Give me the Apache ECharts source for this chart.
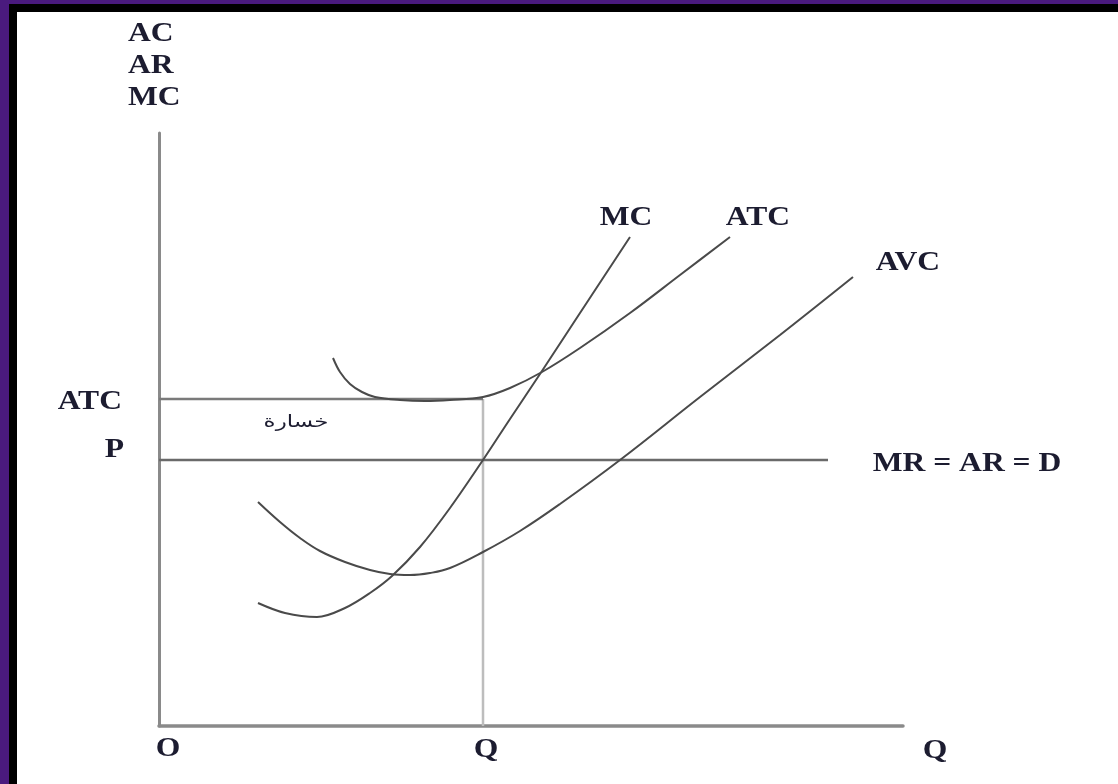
<!DOCTYPE html>
<html>
<head>
<meta charset="utf-8">
<script src="https://cdn.jsdelivr.net/npm/echarts@6/dist/echarts.min.js"></script>
<style>
html,body{margin:0;padding:0;width:1118px;height:784px;overflow:hidden;background:#4a1a7e}
#black{position:absolute;left:9px;top:4px;right:0;bottom:0;background:#000}
#white{position:absolute;left:17px;top:12px;right:0;bottom:0;background:#fff}
#chart{position:absolute;left:0;top:0;width:1118px;height:784px}
</style>
</head>
<body>
<div id="black"></div>
<div id="white"></div>
<div id="chart"></div>
<script>
// Quantity (x) and cost/revenue (y) values
const mcPoints = [[99,123],[126,113],[158,109],[186,118],[211,133],[233,150],[261,179],[291,218],[324,266],[351,307],[381,352],[421,413],[471,489]];
const atcPoints = [[174,368],[181,354],[191,342],[203,334],[216,329],[241,326],[266,325],[291,326],[324,329],[351,338],[383,354],[421,378],[471,413],[521,451],[571,489]];
const avcPoints = [[99,224],[121,204],[141,188],[161,175],[186,164],[211,156],[231,152],[251,151],[271,153],[291,158],[324,174],[361,195],[401,222],[461,266],[541,329],[621,391],[694,449]];
const qOutput = 324;      // Q
const atcLevel = 327;     // ATC at Q
const priceLevel = 266;   // P = MR = AR = D
const demandEnd = 669;
const xMax = 744, yMax = 593;
const yAxisLabels = ['AC','AR','MC'];
const xTickLabels = ['O','Q','Q'];

const atcLine = [[0, atcLevel],[qOutput, atcLevel]];
const priceLine = [[0, priceLevel],[demandEnd, priceLevel]];
const qLine = [[qOutput, 0],[qOutput, atcLevel]];

const chart = echarts.init(document.getElementById('chart'), null, {renderer:'canvas'});

const serifFont = 'bold 27px "Liberation Serif", "DejaVu Serif", serif';
const txtColor = '#1c1c30';
function label(text, x, y, align, font, sx){
  return {
    type:'text', x:x, y:y, scaleX: sx || 1.17, z:10,
    style:{ text:text, x:0, y:0, font: font || serifFont, fill:txtColor,
      align: align || 'center', verticalAlign:'middle',
      textAlign: align || 'center', textVerticalAlign:'middle' }
  };
}

const lineStyleCurve = {color:'#4a4a4a', width:2};
function curve(name, pts, s){
  return {name:name, type:'line', data:pts, smooth:s || 0.35, showSymbol:false, symbol:'none',
    lineStyle:lineStyleCurve, itemStyle:{color:'#4a4a4a'}, silent:true, z:3};
}
function straight(pts, color, width){
  return {type:'line', data:pts, showSymbol:false, symbol:'none',
    lineStyle:{color:color, width:width}, silent:true, z:2};
}

chart.setOption({
  animation:false,
  backgroundColor:'transparent',
  grid:{left:159, top:133, width:xMax, height:yMax},
  xAxis:{type:'value', min:0, max:xMax,
    axisLine:{show:true, onZero:true, lineStyle:{color:'#8a8a8a', width:3.5}},
    axisTick:{show:false}, axisLabel:{show:false}, splitLine:{show:false}},
  yAxis:{type:'value', min:0, max:yMax,
    axisLine:{show:true, onZero:true, lineStyle:{color:'#8a8a8a', width:3}},
    axisTick:{show:false}, axisLabel:{show:false}, splitLine:{show:false}},
  series:[
    straight(qLine, '#bdbdbd', 2.5),
    straight(atcLine, '#7a7a7a', 2.5),
    straight(priceLine, '#6a6a6a', 2.5),
    curve('MC', mcPoints),
    curve('ATC', atcPoints),
    curve('AVC', avcPoints, 0.4)
  ],
  graphic:[
    label(yAxisLabels[0], 128, 34, 'left'),
    label(yAxisLabels[1], 128, 66, 'left'),
    label(yAxisLabels[2], 128, 98, 'left'),
    label('ATC', 122, 402, 'right'),
    label('P', 124, 450, 'right'),
    label('MC', 626, 218),
    label('ATC', 758, 218),
    label('AVC', 908, 263),
    label('MR = AR = D', 967, 464),
    label(xTickLabels[0], 168, 749),
    label(xTickLabels[1], 486, 750),
    label(xTickLabels[2], 935, 751),
    label('خسارة', 296, 423, 'center', '17px "DejaVu Sans", sans-serif', 1.35)
  ]
});
</script>
</body>
</html>
